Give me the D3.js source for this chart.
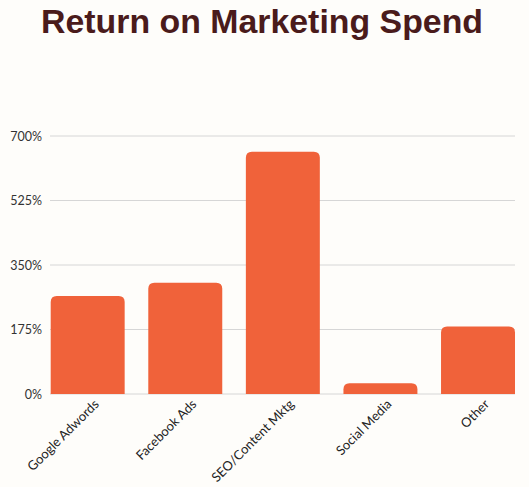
<!DOCTYPE html>
<html>
<head>
<meta charset="utf-8">
<script src="https://cdn.jsdelivr.net/npm/d3@7"></script>
<style>
  body { margin: 0; background: #fefdfa; }
  svg { display: block; }
</style>
</head>
<body>
<div id="container"></div>
<script>
const categories = ["Google Adwords", "Facebook Ads", "SEO/Content Mktg", "Social Media", "Other"];
const values = [266, 302, 657, 29, 183];
const tickValues = [0, 175, 350, 525, 700];

const w = 529;
const h = 487;
const plotLeft = 50.7, plotRight = 515, plotTop = 136, plotBottom = 394;

const svg = d3.select("#container").append("svg")
              .attr("width", w).attr("height", h);

svg.append("rect").attr("width", w).attr("height", h).attr("fill", "#fefdfa");

svg.append("text")
   .attr("x", 262)
   .attr("y", 33)
   .attr("text-anchor", "middle")
   .attr("font-family", "Liberation Sans")
   .attr("font-weight", 700)
   .attr("font-size", 33)
   .attr("textLength", 442)
   .attr("lengthAdjust", "spacingAndGlyphs")
   .attr("fill", "#4a1b1b")
   .text("Return on Marketing Spend");

const x = d3.scaleBand()
            .domain(categories)
            .range([plotLeft, plotRight])
            .paddingInner(0.242)
            .paddingOuter(0);

const y = d3.scaleLinear()
            .domain([0, 700])
            .range([plotBottom, plotTop]);

// gridlines
svg.append("g")
   .selectAll("line").data(tickValues).enter().append("line")
   .attr("x1", 50).attr("x2", plotRight)
   .attr("y1", d => y(d)).attr("y2", d => y(d))
   .attr("stroke", "#d6d6d6")
   .attr("stroke-width", 1);

const yAxis = d3.axisLeft(y).tickValues(tickValues).tickSize(0).tickPadding(0)
                .tickFormat(d => d + "%");
const yAxisGroup = svg.append("g")
   .attr("transform", "translate(42, 0)")
   .call(yAxis);
yAxisGroup.select(".domain").remove();
yAxisGroup.selectAll("text")
   .attr("font-family", "Lato")
   .attr("font-size", 12.5)
   .attr("fill", "#333");

// bars with rounded top corners
const r = 6;
svg.selectAll("path.bar").data(values).enter().append("path")
   .attr("class", "bar")
   .attr("fill", "#f0623a")
   .attr("d", (d, i) => {
     const x0 = x(categories[i]), x1 = x0 + x.bandwidth();
     const y0 = y(d), y1 = y(0);
     const rr = Math.min(r, (y1 - y0));
     return `M${x0},${y1} L${x0},${y0 + rr} Q${x0},${y0} ${x0 + rr},${y0} L${x1 - rr},${y0} Q${x1},${y0} ${x1},${y0 + rr} L${x1},${y1} Z`;
   });

// category labels
svg.append("g")
   .selectAll("text").data(categories).enter().append("text")
   .attr("transform", d => "translate(" + (x(d) + x.bandwidth() / 2 + 12) + "," + 405 + ") rotate(-45)")
   .attr("text-anchor", "end")
   .attr("font-family", "Lato")
   .attr("font-size", 13)
   .attr("fill", "#222")
   .text(d => d);
</script>
</body>
</html>
